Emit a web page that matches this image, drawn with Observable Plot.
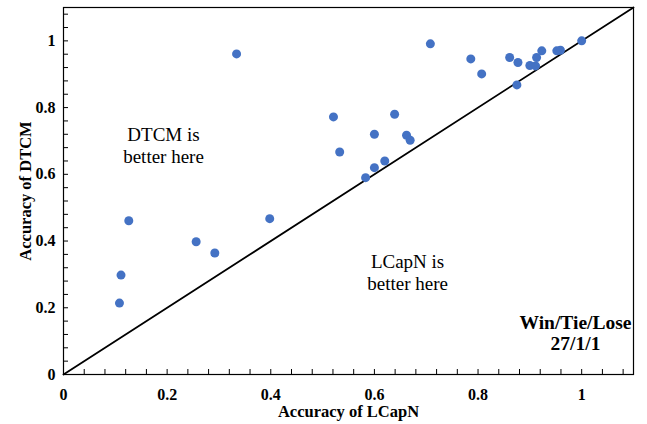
<!DOCTYPE html>
<html><head><meta charset="utf-8">
<script src="https://cdn.jsdelivr.net/npm/d3@7"></script>
<script src="https://cdn.jsdelivr.net/npm/@observablehq/plot@0.6"></script>
<style>body{margin:0;background:#fff;}</style>
</head><body><div id="chart"></div>
<script>
// Accuracy per dataset (LCapN on x, DTCM on y)
const lcapn = [0.334, 0.708, 0.786, 0.807, 0.861, 0.877, 0.900, 0.913, 0.911, 0.923, 0.952, 0.959, 1.000, 0.875,
               0.521, 0.639, 0.533, 0.600, 0.662, 0.669, 0.600, 0.620, 0.583, 0.398, 0.126, 0.256, 0.292, 0.111, 0.108];
const dtcm  = [0.961, 0.991, 0.946, 0.901, 0.950, 0.935, 0.926, 0.950, 0.925, 0.970, 0.970, 0.972, 1.000, 0.868,
               0.772, 0.780, 0.667, 0.720, 0.717, 0.702, 0.620, 0.640, 0.590, 0.467, 0.461, 0.398, 0.364, 0.298, 0.214];
const majorTicks = [0, 0.2, 0.4, 0.6, 0.8, 1];
const tickLabels = ["0", "0.2", "0.4", "0.6", "0.8", "1"];
const minorTicks = d3.range(0, 1.1, 0.04).map(v => +v.toFixed(2));
const diagonal = [0, 1.1];
const regionNotes = ["DTCM is\nbetter here", "LCapN is\nbetter here"];
const regionX = [0.193, 0.664];
const regionY = [0.689, 0.308];
const summaryNote = ["Win/Tie/Lose\n27/1/1"];
const summaryX = [0.988];
const summaryY = [0.126];
const xTitle = "Accuracy of LCapN";
const yTitle = "Accuracy of DTCM";

const points = lcapn.map((x, i) => ({x, y: dtcm[i]}));
const diag = diagonal.map(v => ({x: v, y: v}));
const notes = regionNotes.map((t, i) => ({t, x: regionX[i], y: regionY[i]}));
const summary = summaryNote.map((t, i) => ({t, x: summaryX[i], y: summaryY[i]}));
const fmt = d => tickLabels[majorTicks.indexOf(d)];
const font = "'Liberation Serif', 'Times New Roman', serif";

const chart = Plot.plot({
  width: 647, height: 424,
  marginLeft: 63, marginRight: 14, marginTop: 7, marginBottom: 50,
  style: {fontFamily: font, background: "#fff", color: "#000"},
  x: {domain: [0, 1.1], label: null},
  y: {domain: [0, 1.1], label: null},
  marks: [
    Plot.frame({stroke: "#000", strokeWidth: 1.2}),
    Plot.axisX(minorTicks, {tickSize: -5, tickFormat: () => "", label: null, stroke: "#000"}),
    Plot.axisY(minorTicks, {tickSize: -5, tickFormat: () => "", label: null, stroke: "#000"}),
    Plot.axisX(majorTicks, {tickSize: 0, tickPadding: 14, tickFormat: fmt, label: null,
      fontSize: 16, fontWeight: "bold", fill: "#000"}),
    Plot.axisY(majorTicks, {tickSize: 0, tickPadding: 8, tickFormat: fmt, label: null,
      fontSize: 16, fontWeight: "bold", fill: "#000"}),
    Plot.line(diag, {x: "x", y: "y", stroke: "#000", strokeWidth: 1.8}),
    Plot.dot(points, {x: "x", y: "y", r: 4.5, fill: "#4472C4", stroke: "none"}),
    Plot.text(notes, {x: "x", y: "y", text: "t", fontSize: 19, lineHeight: 1.17, fill: "#000"}),
    Plot.text(summary, {x: "x", y: "y", text: "t", fontSize: 19.5, lineHeight: 1.12, fontWeight: "bold", fill: "#000"}),
    Plot.text([xTitle], {text: d => d, frameAnchor: "bottom", dy: 37, lineAnchor: "middle", textAnchor: "middle",
      fontSize: 16.5, fontWeight: "bold", fill: "#000"}),
    Plot.text([yTitle], {text: d => d, frameAnchor: "left", dx: -38, rotate: -90, textAnchor: "middle", lineAnchor: "middle",
      fontSize: 16.5, fontWeight: "bold", fill: "#000"})
  ]
});
document.getElementById("chart").appendChild(chart);
</script>
</body></html>
